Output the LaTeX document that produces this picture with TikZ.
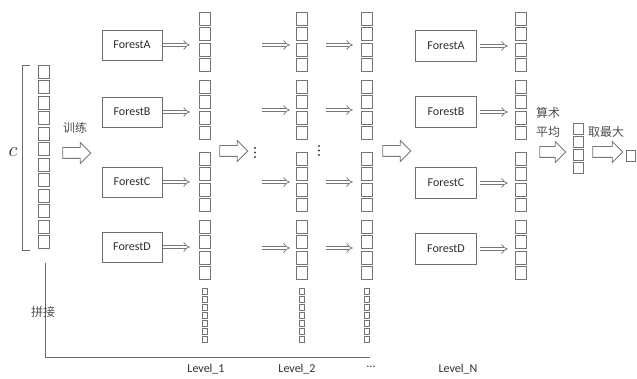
\documentclass[tikz,border=0pt]{standalone}
\usepackage{fontspec}
\setmainfont{Carlito}
\newfontfamily\cjk{Noto Sans CJK SC}
\usetikzlibrary{arrows.meta,shapes.arrows}
\definecolor{sqc}{HTML}{747474}
\definecolor{boxc}{HTML}{6E6E6E}
\definecolor{arrc}{HTML}{777777}
\definecolor{txt}{HTML}{2E2E2E}
\definecolor{lnc}{HTML}{6A6A6A}
\tikzset{
  sq/.style={draw=sqc, line width=0.75pt, minimum width=10.5pt, minimum height=13pt, inner sep=0pt, outer sep=0pt},
  ssq/.style={draw=sqc, line width=0.65pt, minimum width=5.5pt, minimum height=6.5pt, inner sep=0pt, outer sep=0pt},
  forest/.style={draw=boxc, line width=0.8pt, minimum width=60pt, minimum height=30pt, inner sep=0pt, text=txt, font=\fontsize{12}{14}\selectfont},
  dbl/.style={draw=arrc, double=white, double distance=2.6pt, line width=0.75pt, -{Implies[length=6pt, width=10pt]}},
  bigarr/.style={single arrow, draw=arrc, line width=0.85pt, minimum height=28pt, inner xsep=0pt, inner ysep=5pt, single arrow head extend=5pt, single arrow head indent=0pt},
  ln/.style={draw=lnc, line width=0.8pt},
  cn/.style={text=txt!85, font=\cjk\fontsize{12}{19}\selectfont, inner sep=0pt},
  lvl/.style={text=txt, font=\fontsize{12}{14}\selectfont, inner sep=0pt},
  dotn/.style={circle, fill=txt!90, inner sep=0pt, minimum size=2.4pt},
}
\begin{document}
\begin{tikzpicture}[x=1pt,y=-1pt]
\useasboundingbox (0,0) rectangle (637,379);
% input column
\foreach \i in {0,...,11} \node[sq, minimum width=11pt] (c\i) at (44, 65+6.5+\i*15.5) {};
\draw[ln] (30,65) -- (22,65) -- (22,250) -- (30,250);
\node[text=txt, font=\fontsize{21}{24}\selectfont, inner sep=0pt] (clab) at (13,152) {$c$};
% training arrow
\node[cn] (trl) at (75,128) {训练};
\node[bigarr] (tr) at (74,153) {};
% level columns
\foreach \col/\x in {L1/205, L2/302, L3/367, LN/521} {
  \foreach \g/\t in {a/12, b/80, c/152, d/220} {
    \foreach \i in {0,...,3} \node[sq] (\col\g\i) at (\x, \t+6.5+\i*15.5) {};
  }
}
% concatenation columns
\foreach \col/\x in {L1/205, L2/302, L3/367} {
  \foreach \i in {0,...,6} \node[ssq] (\col s\i) at (\x, 288+3.25+\i*8) {};
}
% level 1 forests
\foreach \n/\g/\y in {A/a/45, B/b/112, C/c/182, D/d/247} {
  \node[forest] (F1\n) at (132,\y) {Forest\n};
  \draw[dbl, shorten <=1pt, shorten >=10pt] (F1\n.east) -- (F1\n.east -| L1\g0.west);
}
% level N forests
\foreach \n/\g/\y in {A/a/46, B/b/112, C/c/183, D/d/249} {
  \node[forest, minimum width=61pt, minimum height=31pt] (FN\n) at (446,\y) {Forest\n};
  \draw[dbl, shorten <=3pt, shorten >=8pt] (FN\n.east) -- (FN\n.east -| LN\g0.west);
}
% level 2 / level 3 arrows
\foreach \n/\g/\y in {A/a/45, B/b/110, C/c/182, D/d/248} {
  \coordinate (s2\n) at (262,\y);
  \coordinate (s3\n) at (326,\y);
  \draw[dbl, shorten >=7pt] (s2\n) -- (s2\n -| L2\g0.west);
  \draw[dbl, shorten >=9pt] (s3\n) -- (s3\n -| L3\g0.west);
}
% big arrows and dots
\node[bigarr] (a12) at (231,151) {};
\foreach \k in {0,1,2} {
  \node[dotn] (d1\k) at (255,148+\k*4.5) {};
  \node[dotn] (d2\k) at (319,146+\k*4.5) {};
}
\node[bigarr] (a3N) at (394,151) {};
% averaging
\node[cn, align=center] (avgl) at (548,122) {算术\\平均};
\node[bigarr, minimum height=26pt] (avg) at (550,152) {};
\foreach \i in {0,...,3} \node[sq, minimum width=10pt, minimum height=11pt] (p\i) at (578, 123+5.5+\i*13) {};
\node[cn] (maxl) at (606,132) {取最大};
\node[bigarr, minimum height=30pt] (mx) at (605,152) {};
\node[sq, minimum width=8.5pt, minimum height=11pt] (out) at (631,156) {};
% bottom axis
\coordinate (v0) at (45,263);
\coordinate (v1) at (45,357);
\coordinate (h1) at (370,357);
\draw[ln] (v0) -- (v1) -- (h1);
\node[cn] (pj) at (43,312) {拼接};
\node[lvl] (lv1) at (206,369) {Level\_1};
\node[lvl] (lv2) at (297,369) {Level\_2};
\node[lvl] (lvd) at (371,367) {…};
\node[lvl] (lvn) at (458,369) {Level\_N};
\end{tikzpicture}
\end{document}
